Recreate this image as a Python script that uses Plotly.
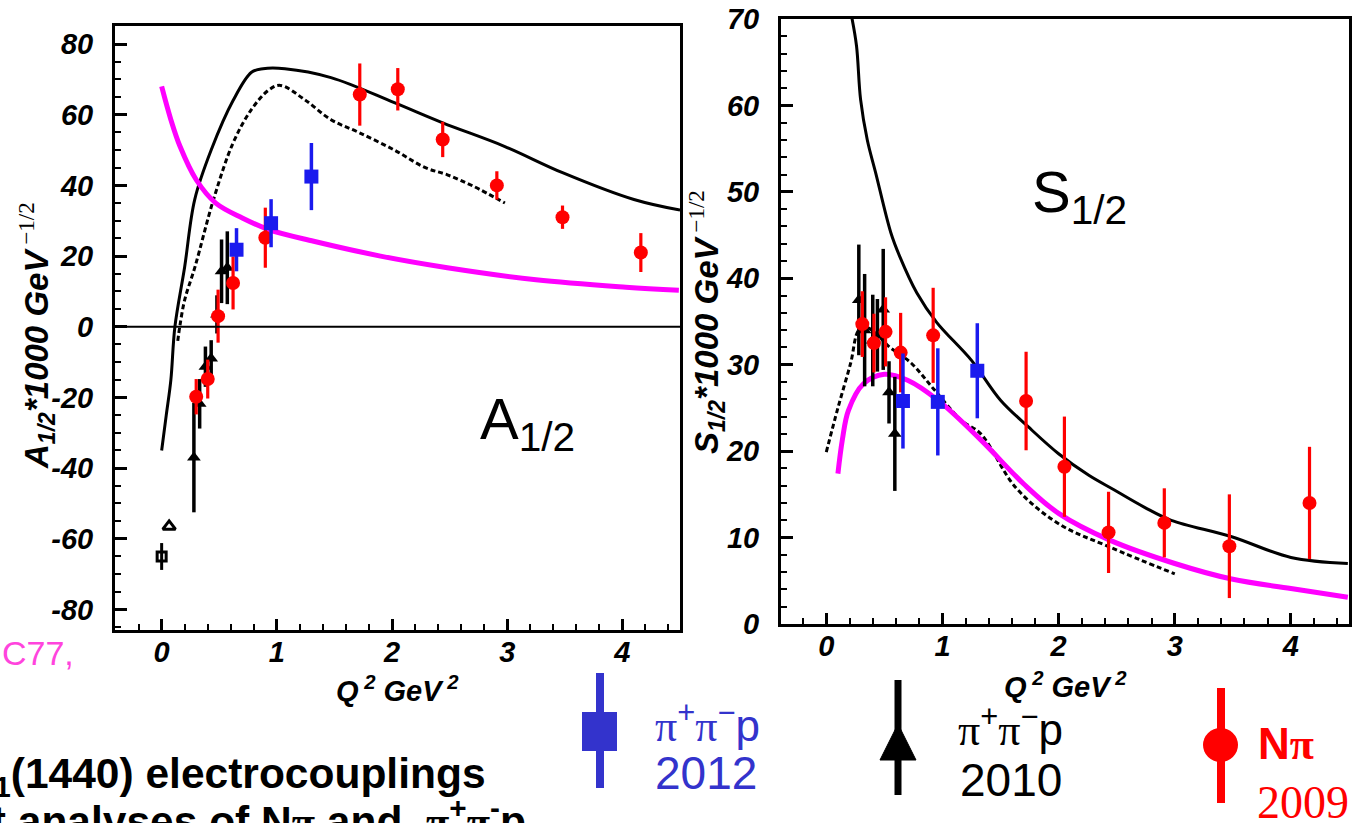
import plotly.graph_objects as go

W, H = 1357, 823

# ---------------- A1/2 panel data ----------------
a_np_q2 = [0.30, 0.40, 0.49, 0.62, 0.90, 1.72, 2.05, 2.44, 2.91, 3.48, 4.16]
a_np_val = [-19.8, -14.8, 3.0, 12.4, 25.2, 65.7, 67.2, 53.0, 40.0, 31.0, 21.0]
a_np_err = [5.0, 5.5, 7.5, 7.5, 8.5, 8.8, 6.0, 5.0, 4.0, 3.3, 5.5]

a_2pi12_q2 = [0.65, 0.95, 1.30]
a_2pi12_val = [21.8, 29.3, 42.5]
a_2pi12_err = [6.1, 6.8, 9.5]

a_2pi10_q2 = [0.28, 0.33, 0.38, 0.43, 0.48, 0.52, 0.57]
a_2pi10_val = [-37.0, -21.8, -11.3, -9.0, 3.5, 15.7, 16.7]
a_2pi10_err = [15.5, 7.0, 5.7, 5.2, 5.4, 9.0, 10.3]

a_photo_q2 = [0.0]
a_photo_val = [-65.0]
a_photo_err = [3.8]
a_photo2_q2 = [0.065]
a_photo2_val = [-56.5]

a_solid_q2 = [0.0, 0.04, 0.08, 0.115, 0.2, 0.287, 0.43, 0.62, 0.78, 0.88, 1.07, 1.47,
              2.02, 2.44, 2.98, 3.48, 4.1, 4.5]
a_solid_val = [-35.0, -25.0, -15.0, 0.0, 17.0, 36.0, 50.0, 64.0, 72.0, 73.0, 73.0, 70.5,
               63.4, 57.7, 51.0, 43.6, 36.0, 33.0]

a_dot_q2 = [0.14, 0.157, 0.2, 0.29, 0.45, 0.62, 0.78, 0.93, 1.03, 1.24, 1.47, 1.71,
            2.02, 2.29, 2.48, 2.71, 2.98]
a_dot_val = [-4.0, 0.0, 7.6, 17.0, 36.0, 52.0, 61.5, 67.0, 68.3, 64.3, 58.6, 55.0,
             50.0, 45.0, 43.0, 39.7, 35.0]

a_mag_q2 = [0.0, 0.08, 0.16, 0.3, 0.47, 0.7, 0.93, 1.32, 1.9, 2.48, 3.25, 4.03, 4.49]
a_mag_val = [68.0, 58.6, 51.0, 41.6, 35.0, 30.8, 27.5, 24.2, 20.0, 16.7, 13.3, 11.2, 10.3]

# ---------------- S1/2 panel data ----------------
s_np_q2 = [0.31, 0.41, 0.51, 0.64, 0.92, 1.72, 2.05, 2.43, 2.91, 3.47, 4.16]
s_np_val = [34.7, 32.5, 33.8, 31.4, 33.4, 25.8, 18.2, 10.6, 11.7, 9.0, 14.0]
s_np_err = [3.8, 3.4, 4.0, 4.6, 5.5, 5.7, 5.8, 4.7, 4.0, 6.0, 6.5]

s_2pi12_q2 = [0.66, 0.96, 1.30]
s_2pi12_val = [25.8, 25.7, 29.3]
s_2pi12_err = [5.5, 6.2, 5.5]

s_2pi10_q2 = [0.28, 0.33, 0.40, 0.44, 0.49, 0.54, 0.59]
s_2pi10_val = [37.5, 34.0, 32.8, 33.4, 36.4, 26.8, 22.0]
s_2pi10_err = [6.4, 6.5, 5.3, 4.2, 7.0, 3.6, 6.6]

s_solid_q2 = [0.215, 0.26, 0.295, 0.353, 0.425, 0.555, 0.63, 0.78, 0.95, 1.25, 1.5, 1.74,
              2.0, 2.26, 2.48, 2.74, 2.97, 3.49, 4.0, 4.49]
s_solid_val = [70.5, 66.9, 60.7, 56.0, 52.2, 45.3, 42.6, 38.3, 34.9, 30.5, 25.9, 22.8,
               19.7, 17.2, 15.5, 13.5, 12.0, 10.1, 7.7, 7.0]

s_dot_q2 = [0.0, 0.1, 0.21, 0.28, 0.35, 0.45, 0.54, 0.73, 0.93, 1.16, 1.33, 1.63,
            2.0, 2.44, 3.0]
s_dot_val = [19.9, 25.0, 30.2, 34.0, 34.3, 33.3, 32.1, 30.2, 27.1, 23.6, 22.0, 15.8,
             11.6, 8.9, 5.8]

s_mag_q2 = [0.1, 0.138, 0.19, 0.32, 0.5, 0.7, 0.96, 1.33, 1.7, 2.0, 2.44, 3.0, 3.49, 4.0, 4.49]
s_mag_val = [17.4, 21.3, 24.7, 27.8, 28.9, 28.2, 25.9, 21.3, 16.2, 12.8, 9.7, 7.0, 5.2, 4.1, 3.1]

# tick labels
a_ticks = [-80, -60, -40, -20, 0, 20, 40, 60, 80]
s_ticks = [0, 10, 20, 30, 40, 50, 60, 70]
q2_ticks = [0, 1, 2, 3, 4]

RED = "#ff0000"
BLUE = "#1a1aee"
LEG_BLUE = "#3333cc"
MAGENTA = "#ff00ff"
BLACK = "#000000"


def px(x):
    return x / W


def py(y):
    return 1 - y / H


fig = go.Figure()


def add_panel(xa, ya, solid, dot, mag, np_d, pi12, pi10):
    fig.add_trace(go.Scatter(x=solid[0], y=solid[1], mode="lines", xaxis=xa, yaxis=ya,
                             line=dict(color=BLACK, width=3, shape="spline")))
    fig.add_trace(go.Scatter(x=dot[0], y=dot[1], mode="lines", xaxis=xa, yaxis=ya,
                             line=dict(color=BLACK, width=3, dash="5px,3px", shape="spline")))
    fig.add_trace(go.Scatter(x=mag[0], y=mag[1], mode="lines", xaxis=xa, yaxis=ya,
                             line=dict(color=MAGENTA, width=5, shape="spline")))
    fig.add_trace(go.Scatter(x=pi10[0], y=pi10[1], mode="markers", xaxis=xa, yaxis=ya,
                             marker=dict(symbol="triangle-up", size=12, color=BLACK),
                             error_y=dict(type="data", array=pi10[2], color=BLACK,
                                          thickness=3.5, width=0)))
    fig.add_trace(go.Scatter(x=np_d[0], y=np_d[1], mode="markers", xaxis=xa, yaxis=ya,
                             marker=dict(symbol="circle", size=14, color=RED),
                             error_y=dict(type="data", array=np_d[2], color=RED,
                                          thickness=3.2, width=0)))
    fig.add_trace(go.Scatter(x=pi12[0], y=pi12[1], mode="markers", xaxis=xa, yaxis=ya,
                             marker=dict(symbol="square", size=14, color=BLUE),
                             error_y=dict(type="data", array=pi12[2], color=BLUE,
                                          thickness=3.5, width=0)))


add_panel("x", "y",
          (a_solid_q2, a_solid_val), (a_dot_q2, a_dot_val), (a_mag_q2, a_mag_val),
          (a_np_q2, a_np_val, a_np_err), (a_2pi12_q2, a_2pi12_val, a_2pi12_err),
          (a_2pi10_q2, a_2pi10_val, a_2pi10_err))
fig.add_trace(go.Scatter(x=a_photo_q2, y=a_photo_val, mode="markers", xaxis="x", yaxis="y",
                         marker=dict(symbol="square-open", size=9, color=BLACK,
                                     line=dict(width=3, color=BLACK)),
                         error_y=dict(type="data", array=a_photo_err, color=BLACK,
                                      thickness=3, width=0)))
fig.add_trace(go.Scatter(x=a_photo2_q2, y=a_photo2_val, mode="markers", xaxis="x", yaxis="y",
                         marker=dict(symbol="triangle-up-open", size=11, color=BLACK,
                                     line=dict(width=3, color=BLACK))))

add_panel("x2", "y2",
          (s_solid_q2, s_solid_val), (s_dot_q2, s_dot_val), (s_mag_q2, s_mag_val),
          (s_np_q2, s_np_val, s_np_err), (s_2pi12_q2, s_2pi12_val, s_2pi12_err),
          (s_2pi10_q2, s_2pi10_val, s_2pi10_err))

tick_font = dict(family="Liberation Sans", size=29, color=BLACK, weight="bold", style="italic")
frame = dict(showline=True, mirror=True, linewidth=3, linecolor=BLACK, showgrid=False,
             zeroline=False, ticks="inside", tickwidth=3, tickcolor=BLACK, tickfont=tick_font,
             automargin=False)

fig.update_layout(
    template="none",
    width=W, height=H,
    margin=dict(l=0, r=0, t=0, b=0, autoexpand=False),
    paper_bgcolor="white", plot_bgcolor="white",
    showlegend=False,
    xaxis=dict(domain=[px(115), px(680)], range=[-0.405, 4.5], anchor="y",
               tickvals=q2_ticks, ticktext=[str(v) for v in q2_ticks], ticklen=11,
               minor=dict(ticks="inside", dtick=0.2, tick0=0, ticklen=6, tickwidth=2,
                          tickcolor=BLACK, showgrid=False),
               ticklabelstandoff=-6, **frame),
    yaxis=dict(domain=[py(630), py(26)], range=[-85.8, 85.1], anchor="x",
               tickvals=a_ticks, ticktext=[str(v) for v in a_ticks], ticklen=12,
               minor=dict(ticks="inside", dtick=5, tick0=0, ticklen=6, tickwidth=2,
                          tickcolor=BLACK, showgrid=False),
               ticklabelstandoff=13, **frame),
    xaxis2=dict(domain=[px(781), px(1349)], range=[-0.39, 4.5], anchor="y2",
                tickvals=q2_ticks, ticktext=[str(v) for v in q2_ticks], ticklen=11,
                minor=dict(ticks="inside", dtick=0.2, tick0=0, ticklen=6, tickwidth=2,
                           tickcolor=BLACK, showgrid=False),
                ticklabelstandoff=-6, **frame),
    yaxis2=dict(domain=[py(624), py(19)], range=[0, 70], anchor="x2",
                tickvals=s_ticks, ticktext=[str(v) for v in s_ticks], ticklen=12,
                minor=dict(ticks="inside", dtick=2, tick0=0, ticklen=6, tickwidth=2,
                           tickcolor=BLACK, showgrid=False),
                ticklabelstandoff=13, **frame),
)

# zero line of the A1/2 panel
fig.add_shape(type="line", xref="x domain", yref="y", x0=0, x1=1, y0=0, y1=0,
              line=dict(color=BLACK, width=2))

# legend glyphs, placed in page pixels
LEG_BLUE_X, LEG_BLACK_X, LEG_RED_X = 600, 898, 1221


def pline(x, y0, y1, color, width):
    fig.add_shape(type="line", xref="paper", yref="paper", x0=px(x), x1=px(x),
                  y0=py(y0), y1=py(y1), line=dict(color=color, width=width))


pline(LEG_BLUE_X, 673, 788, LEG_BLUE, 8)
fig.add_shape(type="rect", xref="paper", yref="paper", x0=px(LEG_BLUE_X - 18), x1=px(LEG_BLUE_X + 17),
              y0=py(712), y1=py(751), fillcolor=LEG_BLUE, line=dict(width=0))
pline(LEG_BLACK_X, 680, 795, BLACK, 7)
fig.add_shape(type="path", xref="paper", yref="paper",
              path="M %f %f L %f %f L %f %f Z" % (px(LEG_BLACK_X - 18), py(760), px(LEG_BLACK_X + 18),
                                                    py(760), px(LEG_BLACK_X), py(724)),
              fillcolor=BLACK, line=dict(color=BLACK, width=1))
pline(LEG_RED_X, 688, 803, RED, 8)
fig.add_shape(type="circle", xref="paper", yref="paper", x0=px(LEG_RED_X - 18), x1=px(LEG_RED_X + 17),
              y0=py(728), y1=py(762), fillcolor=RED, line=dict(width=0))


def note(text, x, y, size, xanchor="center", yanchor="middle", angle=0, **font):
    f = dict(family="Liberation Sans", color=BLACK, size=size)
    f.update(font)
    fig.add_annotation(text=text, x=px(x), y=py(y), xref="paper", yref="paper",
                       xanchor=xanchor, yanchor=yanchor, textangle=angle,
                       showarrow=False, font=f)


sup_style = "font-family:Liberation Serif;font-weight:normal;font-style:normal"
PI = "<span style='font-family:Liberation Serif'>\u03c0</span>"

# panel labels
note("A<sub>1/2</sub>", 478, 423, 58, xanchor="left")
note("S<sub>1/2</sub>", 1030, 196, 58, xanchor="left")

# axis titles
note("A<sub>1/2</sub>*1000 GeV<sup><span style='%s'> \u22121/2</span></sup>" % sup_style,
     36, 336, 33, angle=-90, weight="bold", style="italic")
note("S<sub>1/2</sub>*1000 GeV<sup><span style='%s'> \u22121/2</span></sup>" % sup_style,
     706, 322, 33, angle=-90, weight="bold", style="italic")
note("Q<sup> 2</sup> GeV<sup> 2</sup>", 397, 689, 29, weight="bold", style="italic")
note("Q<sup> 2</sup> GeV<sup> 2</sup>", 1065, 685, 29, weight="bold", style="italic")

# legend texts
note(PI + "<sup>+</sup>" + PI + "<sup>\u2212</sup>p", 653, 723, 44, xanchor="left", color=LEG_BLUE)
note("2012", 653, 773, 46, xanchor="left", color=LEG_BLUE)
note(PI + "<sup>+</sup>" + PI + "<sup>\u2212</sup>p", 956, 727, 44, xanchor="left")
note("2010", 958, 780, 46, xanchor="left")
note("N" + PI, 1256, 744, 44, xanchor="left", color=RED, weight="bold")
note("2009", 1255, 802, 46, xanchor="left", color=RED, family="Liberation Serif")

# captions along the bottom-left edge
note("C77,", 76, 653, 34, xanchor="right", color="#ff44dd")
note("P<sub>11</sub>(1440) electrocouplings", 488, 776, 42.5, xanchor="right", weight="bold")
note("from joint analyses of N" + PI + " and  " + PI + "<sup>+</sup>" + PI + "<sup>-</sup>p",
     528, 818, 42.5, xanchor="right", weight="bold")

fig.write_html("out.html")
